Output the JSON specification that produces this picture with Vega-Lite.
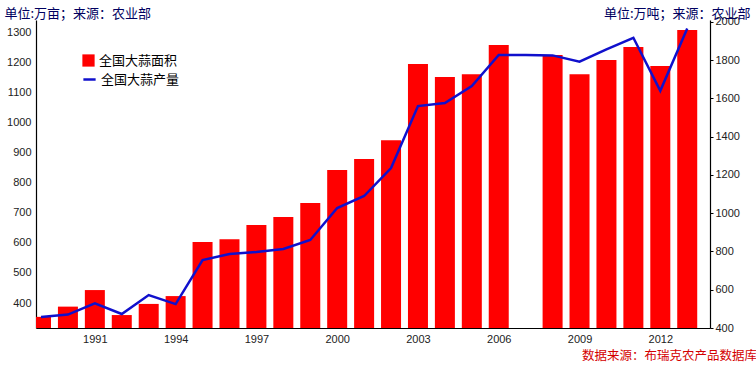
{
  "$schema": "https://vega.github.io/schema/vega-lite/v6.json",
  "width": 674,
  "height": 308,
  "autosize": "none",
  "padding": {"left": 36, "top": 20, "right": 46, "bottom": 41},
  "background": "white",
  "config": {
    "view": {"stroke": null},
    "font": "Liberation Sans",
    "axis": {"grid": false, "domainColor": "#000", "domainWidth": 1.2, "labelFont": "Liberation Sans", "labelFontSize": 11, "labelColor": "#222", "tickColor": "#000"}
  },
  "title": {
    "text": "数据来源：布瑞克农产品数据库",
    "orient": "bottom",
    "anchor": "end",
    "color": "#d40000",
    "font": "Noto Sans CJK SC",
    "fontSize": 12.5,
    "fontWeight": "normal",
    "offset": 6,
    "dx": 7
  },
  "data": {
    "values": [
      {"year": 1989, "area": 354, "output": 458},
      {"year": 1990, "area": 388, "output": 470},
      {"year": 1991, "area": 443, "output": 529},
      {"year": 1992, "area": 360, "output": 473},
      {"year": 1993, "area": 397, "output": 572},
      {"year": 1994, "area": 423, "output": 525},
      {"year": 1995, "area": 603, "output": 755},
      {"year": 1996, "area": 612, "output": 787},
      {"year": 1997, "area": 659, "output": 797},
      {"year": 1998, "area": 686, "output": 813},
      {"year": 1999, "area": 732, "output": 860},
      {"year": 2000, "area": 842, "output": 1027},
      {"year": 2001, "area": 878, "output": 1090},
      {"year": 2002, "area": 941, "output": 1236},
      {"year": 2003, "area": 1194, "output": 1560},
      {"year": 2004, "area": 1151, "output": 1576},
      {"year": 2005, "area": 1160, "output": 1665},
      {"year": 2006, "area": 1257, "output": 1827},
      {"year": 2007, "area": null, "output": 1827},
      {"year": 2008, "area": 1224, "output": 1825},
      {"year": 2009, "area": 1160, "output": 1792},
      {"year": 2010, "area": 1207, "output": 1857},
      {"year": 2011, "area": 1250, "output": 1917},
      {"year": 2012, "area": 1187, "output": 1640},
      {"year": 2013, "area": 1307, "output": 1965}
    ]
  },
  "encoding": {
    "x": {
      "field": "year",
      "type": "quantitative",
      "scale": {"domain": [1989, 2013.66], "nice": false, "zero": false},
      "axis": {"title": null, "values": [1991, 1994, 1997, 2000, 2003, 2006, 2009, 2012], "format": "d", "ticks": false, "labelPadding": 5, "labelFlush": false}
    }
  },
  "layer": [
    {
      "transform": [{"filter": "datum.area != null"}],
      "mark": {"type": "bar", "width": 20, "clip": true},
      "encoding": {
        "y": {
          "field": "area",
          "type": "quantitative",
          "scale": {"domain": [317, 1340], "nice": false, "zero": false},
          "axis": {
            "title": "单位:万亩；来源：农业部",
            "titleAngle": 0,
            "titleX": -32,
            "titleY": -3,
            "titleAlign": "left",
            "titleBaseline": "alphabetic",
            "titleFont": "Noto Sans CJK SC",
            "titleFontSize": 13,
            "titleFontWeight": "normal",
            "titleColor": "#000060",
            "values": [400, 500, 600, 700, 800, 900, 1000, 1100, 1200, 1300],
            "format": "d",
            "ticks": false,
            "labelPadding": 5
          }
        },
        "y2": {"datum": 317},
        "fill": {
          "datum": "全国大蒜面积",
          "type": "nominal",
          "scale": {"range": ["#ff0000"]},
          "legend": {"orient": "none", "legendX": 46, "legendY": 34, "title": null, "symbolType": "square", "symbolSize": 150, "symbolStrokeWidth": 0, "labelFont": "Noto Sans CJK SC", "labelFontSize": 13, "labelColor": "#000", "labelOffset": 4}
        }
      }
    },
    {
      "mark": {"type": "line", "strokeWidth": 2.5, "clip": true},
      "encoding": {
        "y": {
          "field": "output",
          "type": "quantitative",
          "scale": {"domain": [400, 2010], "nice": false, "zero": false},
          "axis": {
            "orient": "right",
            "title": "单位:万吨；来源：农业部",
            "titleAngle": 0,
            "titleX": 40,
            "titleY": -3,
            "titleAlign": "right",
            "titleBaseline": "alphabetic",
            "titleFont": "Noto Sans CJK SC",
            "titleFontSize": 13,
            "titleFontWeight": "normal",
            "titleColor": "#000060",
            "values": [400, 600, 800, 1000, 1200, 1400, 1600, 1800, 2000],
            "format": "d",
            "tickSize": 3,
            "labelPadding": 2
          }
        },
        "stroke": {
          "datum": "全国大蒜产量",
          "type": "nominal",
          "scale": {"range": ["#1010cc"]},
          "legend": {"orient": "none", "legendX": 46, "legendY": 52, "title": null, "symbolType": "stroke", "symbolSize": 150, "symbolStrokeWidth": 2.5, "labelFont": "Noto Sans CJK SC", "labelFontSize": 13, "labelColor": "#000", "labelOffset": 4}
        }
      }
    }
  ],
  "resolve": {"scale": {"y": "independent", "fill": "independent", "stroke": "independent"}}
}
